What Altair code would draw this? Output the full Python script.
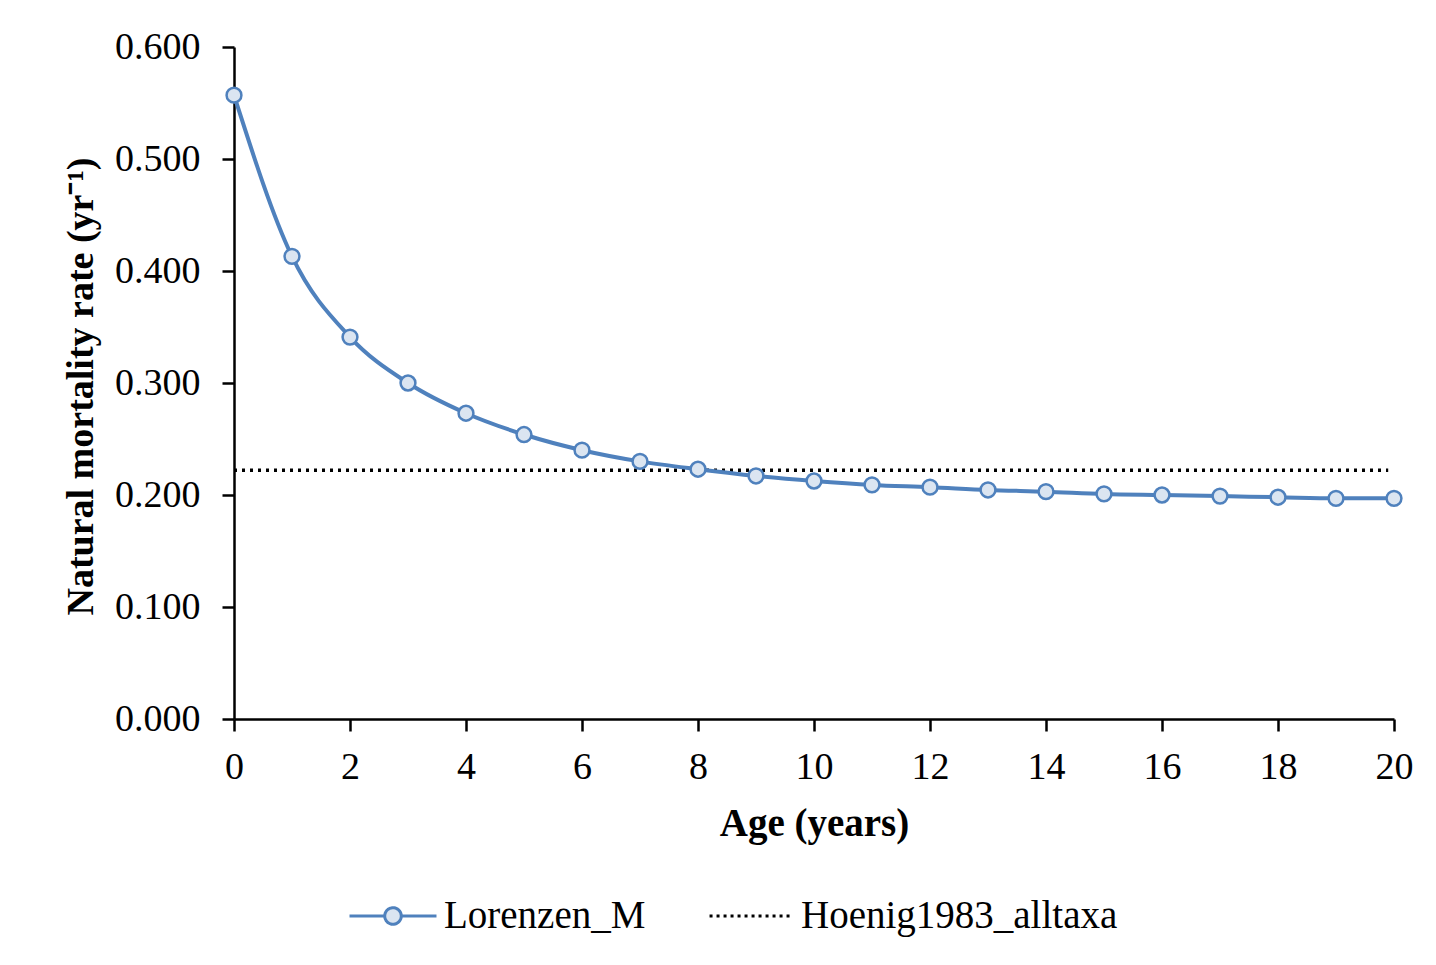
import altair as alt
import pandas as pd

# ---- data ----
ages = list(range(0, 21))
lorenzen_m = [0.557, 0.413, 0.341, 0.300, 0.273, 0.254, 0.240, 0.230, 0.223, 0.217,
              0.2125, 0.209, 0.207, 0.2045, 0.203, 0.201, 0.200, 0.199, 0.198, 0.197, 0.197]
hoenig_ages = [0, 19.9]
hoenig_m = [0.222, 0.222]
series_names = ["Lorenzen_M", "Hoenig1983_alltaxa"]
x_ticks = list(range(0, 21, 2))
y_ticks = [0.0, 0.1, 0.2, 0.3, 0.4, 0.5, 0.6]

BLUE = "#4f81bd"
LIGHT = "#dbe5f1"
FONT = "Liberation Serif"

lor_df = pd.DataFrame({"age": ages, "M": lorenzen_m, "series": series_names[0]})
hoe_df = pd.DataFrame({"age": hoenig_ages, "M": hoenig_m, "series": series_names[1]})
all_df = pd.concat([lor_df, hoe_df], ignore_index=True)

x_enc = alt.X("age:Q", scale=alt.Scale(domain=[0, 20], nice=False, zero=False),
              axis=alt.Axis(values=x_ticks, format="d", labelFlush=False,
                            title="Age (years)", grid=False,
                            labelFontSize=38, labelFont=FONT, labelColor="black",
                            labelBaseline="alphabetic", labelPadding=47,
                            tickSize=12, tickWidth=2.5, tickColor="black",
                            domainColor="black", domainWidth=2.5,
                            titleFont=FONT, titleFontSize=39, titleFontWeight="bold",
                            titleColor="black", titleBaseline="alphabetic", titleY=116))
y_enc = alt.Y("M:Q", scale=alt.Scale(domain=[0, 0.6], nice=False),
              axis=alt.Axis(values=y_ticks, format=".3f", grid=False, labelFlush=False,
                            title="Natural mortality rate (yr\u207b\u00b9)",
                            labelFontSize=38, labelFont=FONT, labelColor="black",
                            labelPadding=22,
                            tickSize=12, tickWidth=2.5, tickColor="black",
                            domainColor="black", domainWidth=2.5,
                            titleFont=FONT, titleFontSize=38, titleFontWeight="bold",
                            titleColor="black", titleBaseline="alphabetic",
                            titleX=-142, titleY=339, titleAngle=-90))

hoenig_line = alt.Chart(hoe_df).mark_line(color="black", strokeWidth=3.5, strokeDash=[3, 5]).encode(
    x=x_enc, y=y_enc)

lor_line = alt.Chart(lor_df).mark_line(color=BLUE, strokeWidth=4, interpolate="monotone").encode(
    x="age:Q", y="M:Q")

lor_pts = alt.Chart(lor_df).mark_point(shape="circle", filled=False, fill=LIGHT, stroke=BLUE,
                                        strokeWidth=2.5, size=220, opacity=1).encode(
    x="age:Q", y="M:Q")

r = 0.19
lor_sym = (f"M-1,0H-{r} M{r},0H1 M{r},0A{r},{r},0,1,1,-{r},0A{r},{r},0,1,1,{r},0Z")
hoe_sym = "M-0.93,0H0.93"


def leg():
    return alt.Legend(title=None, orient="none", legendX=114, legendY=824,
                      direction="horizontal", symbolSize=7569,
                      symbolStrokeWidth=3, labelFontSize=39, labelFont=FONT,
                      labelColor="black", labelOffset=6, columnPadding=57,
                      padding=0, symbolOpacity=1, labelLimit=600)


legend_layer = alt.Chart(all_df).transform_filter("false").mark_point(
    filled=False, strokeWidth=3, opacity=1).encode(
    x="age:Q", y="M:Q",
    shape=alt.Shape("series:N", scale=alt.Scale(domain=series_names, range=[lor_sym, hoe_sym]),
                    legend=leg()),
    color=alt.Color("series:N", scale=alt.Scale(domain=series_names, range=[BLUE, "black"]),
                    legend=leg()),
    fill=alt.Fill("series:N", scale=alt.Scale(domain=series_names, range=[LIGHT, "transparent"]),
                  legend=leg()),
    strokeDash=alt.StrokeDash("series:N", scale=alt.Scale(domain=series_names, range=[[1, 0], [3, 4]]),
                              legend=leg()),
)

chart = alt.layer(hoenig_line, lor_line, lor_pts, legend_layer).properties(
    width=1160, height=672,
    autosize=alt.AutoSizeParams(type="none"),
    padding={"left": 226, "top": 39, "right": 34, "bottom": 238},
    background="white",
).configure_view(stroke=None)

chart.save("out.html", embed_options={"renderer": "svg", "actions": False})
